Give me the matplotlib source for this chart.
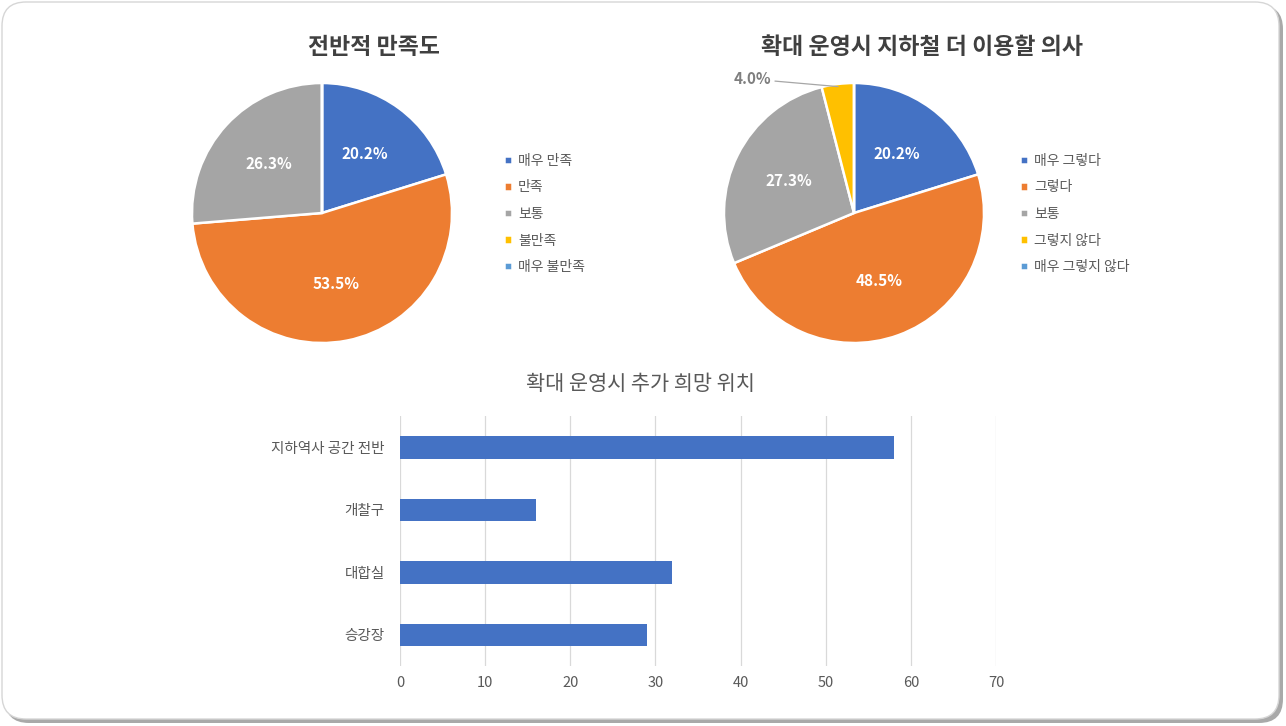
"""
Survey figure: two satisfaction pies and a horizontal bar chart of preferred locations.
"""

import numpy as np
import matplotlib
matplotlib.use('Agg')
import matplotlib.pyplot as plt
from matplotlib.patches import FancyBboxPatch
from matplotlib.transforms import IdentityTransform

plt.rcParams['font.family'] = ['Noto Sans CJK KR', 'DejaVu Sans']

# ---- data ----
pie1_title = '전반적 만족도'
pie1_labels = ['매우 만족', '만족', '보통', '불만족', '매우 불만족']
pie1_values = [20.2, 53.5, 26.3, 0.0, 0.0]

pie2_title = '확대 운영시 지하철 더 이용할 의사'
pie2_labels = ['매우 그렇다', '그렇다', '보통', '그렇지 않다', '매우 그렇지 않다']
pie2_values = [20.2, 48.5, 27.3, 4.0, 0.0]

bar_title = '확대 운영시 추가 희망 위치'
bar_categories = ['지하역사 공간 전반', '개찰구', '대합실', '승강장']
bar_values = [58, 16, 32, 29]
bar_ticks = [0, 10, 20, 30, 40, 50, 60, 70]

PIE_COLORS = ['#4472C4', '#ED7D31', '#A5A5A5', '#FFC000', '#5B9BD5']
TEXT_GRAY = '#595959'

W, H = 1286, 726
fig = plt.figure(figsize=(W / 100, H / 100), dpi=100)
fig.patch.set_facecolor('white')

# card background with a soft shadow on the right / bottom
shadow = FancyBboxPatch((5, H - 723), 1278, 718,
                        boxstyle='round,pad=0,rounding_size=24',
                        transform=IdentityTransform(), facecolor='#A9A9A9',
                        edgecolor='none', zorder=-3)
card = FancyBboxPatch((2, H - 719), 1277, 717,
                      boxstyle='round,pad=0,rounding_size=24',
                      transform=IdentityTransform(), facecolor='white',
                      edgecolor='#D6D6D6', linewidth=1, zorder=-2)
fig.add_artist(shadow)
fig.add_artist(card)


def px_axes(left, top, width, height):
    """Axes placed by image pixel box (origin top-left)."""
    return fig.add_axes([left / W, 1 - (top + height) / H, width / W, height / H])


def draw_pie(cx, cy, r, values, labels, title, title_x, legend_x, outside=()):
    ax = px_axes(cx - r, cy - r, 2 * r, 2 * r)
    wedges, _ = ax.pie(values, colors=PIE_COLORS, startangle=90, counterclock=False,
                       radius=1, wedgeprops=dict(edgecolor='white', linewidth=1.8))
    ax.set_xlim(-1, 1)
    ax.set_ylim(-1, 1)
    ax.set_aspect('equal')
    ax.axis('off')

    total = sum(values)
    for i, (w, v) in enumerate(zip(wedges, values)):
        if v <= 0:
            continue
        ang = np.deg2rad((w.theta1 + w.theta2) / 2)
        txt = f'{v / total * 100:.1f}%'
        if i in outside:
            ax.annotate(txt, xy=(np.cos(ang) * 0.98, np.sin(ang) * 0.98),
                        xytext=(-0.64, 1.03), ha='right', va='center',
                        fontsize=11, fontweight='bold', color='#7F7F7F',
                        arrowprops=dict(arrowstyle='-', color='#A6A6A6', lw=0.9,
                                        shrinkA=1, shrinkB=0))
        else:
            ax.text(np.cos(ang) * 0.56, np.sin(ang) * 0.56, txt, ha='center',
                    va='center', fontsize=11, fontweight='bold', color='white')

    fig.text(title_x / W, 1 - 47 / H, title, ha='center', va='center',
             fontsize=16.5, fontweight='bold', color='#404040')

    ax.legend(wedges, labels, loc='upper left',
              bbox_to_anchor=(legend_x / W, 1 - 154 / H),
              bbox_transform=fig.transFigure, frameon=False, fontsize=10,
              handlelength=0.55, handleheight=0.55, handletextpad=0.45,
              labelspacing=0.9, labelcolor=TEXT_GRAY, borderaxespad=0,
              borderpad=0)
    return ax


draw_pie(322, 213, 130, pie1_values, pie1_labels, pie1_title, 374, 504)
draw_pie(854, 213, 130, pie2_values, pie2_labels, pie2_title, 922, 1020, outside=(3,))

# ---- bar chart ----
bx = px_axes(400, 416, 596, 250)
y = np.arange(len(bar_categories))
bx.barh(y, bar_values, height=0.36, color='#4472C4', zorder=3)
bx.set_xlim(0, 70)
bx.set_ylim(len(bar_categories) - 0.5, -0.5)
bx.set_xticks(bar_ticks)
bx.set_yticks(y)
bx.set_yticklabels(bar_categories)
bx.tick_params(axis='both', length=0, labelsize=10.5, labelcolor=TEXT_GRAY)
bx.tick_params(axis='x', pad=7)
bx.tick_params(axis='y', pad=11)
bx.grid(True, axis='x', color='#D9D9D9', linewidth=0.9, zorder=0)
for s in bx.spines.values():
    s.set_visible(False)

fig.text(640 / W, 1 - 384 / H, bar_title, ha='center', va='center',
         fontsize=15, color=TEXT_GRAY)

fig.savefig('out.png', dpi=100)
